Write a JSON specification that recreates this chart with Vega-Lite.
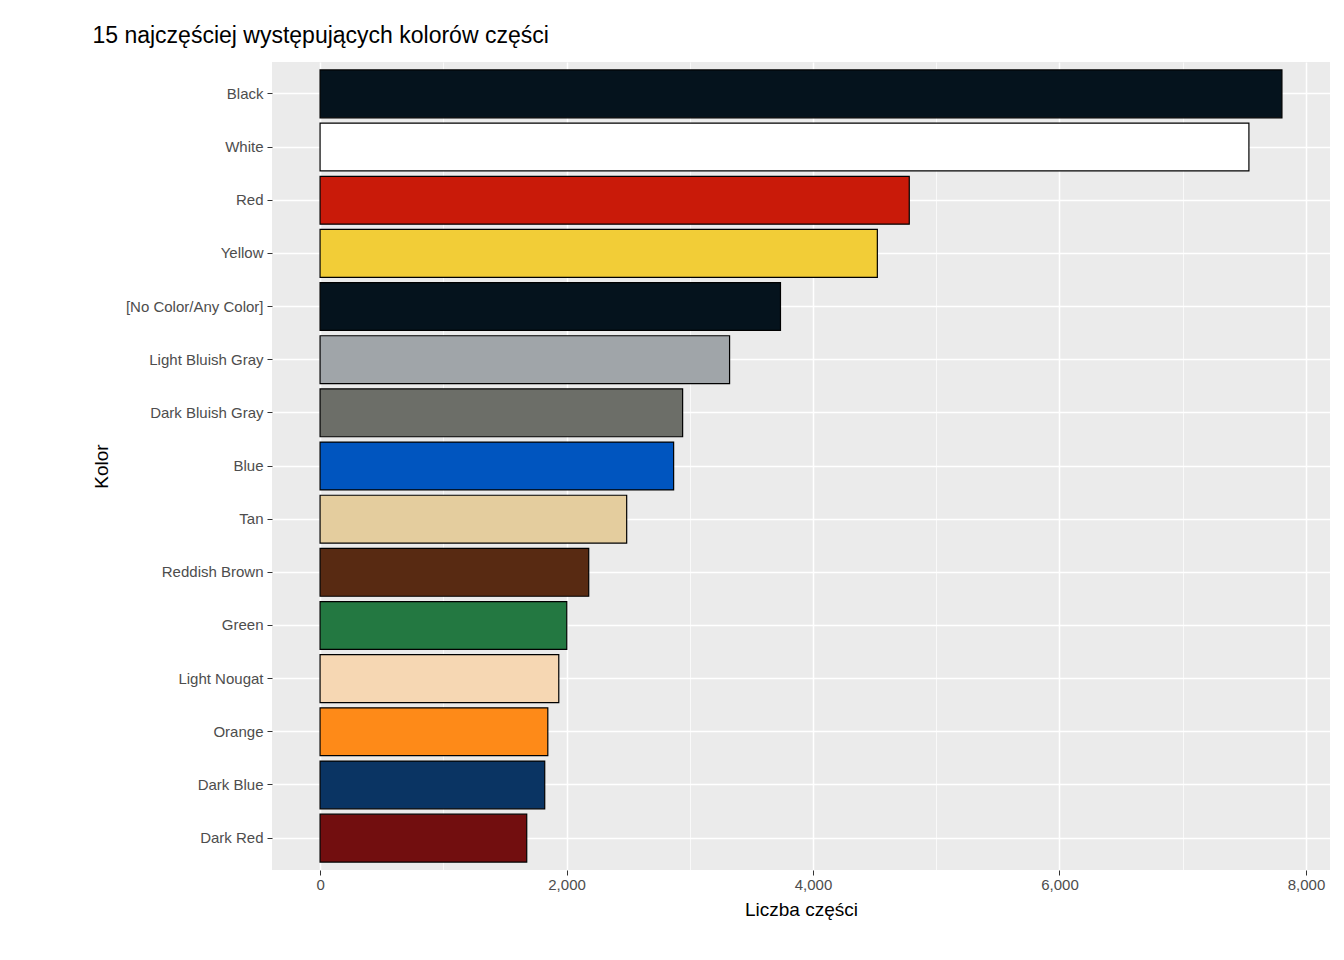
{
  "$schema": "https://vega.github.io/schema/vega-lite/v6.json",
  "autosize": "none",
  "width": 1058,
  "height": 808,
  "padding": {"left": 272, "top": 62, "right": 14, "bottom": 90},
  "background": "white",
  "title": {"text": "15 najczęściej występujących kolorów części", "anchor": "start", "frame": "bounds", "font": "Liberation Sans", "fontSize": 23, "fontWeight": "normal", "color": "black", "offset": 14},
  "config": {"view": {"fill": "#EBEBEB", "stroke": null}},
  "data": {"values": [
    {"kolor": "Black", "n": 7805},
    {"kolor": "White", "n": 7537},
    {"kolor": "Red", "n": 4781},
    {"kolor": "Yellow", "n": 4522},
    {"kolor": "[No Color/Any Color]", "n": 3736},
    {"kolor": "Light Bluish Gray", "n": 3323},
    {"kolor": "Dark Bluish Gray", "n": 2942},
    {"kolor": "Blue", "n": 2869},
    {"kolor": "Tan", "n": 2488},
    {"kolor": "Reddish Brown", "n": 2180},
    {"kolor": "Green", "n": 2002},
    {"kolor": "Light Nougat", "n": 1937},
    {"kolor": "Orange", "n": 1848},
    {"kolor": "Dark Blue", "n": 1823},
    {"kolor": "Dark Red", "n": 1677}
  ]},
  "mark": {"type": "bar", "stroke": "black", "strokeWidth": 1.2},
  "encoding": {
    "y": {"field": "kolor", "type": "nominal", "sort": {"field": "n", "order": "descending"}, "title": "Kolor",
      "scale": {"paddingInner": 0.1, "paddingOuter": 0.15},
      "axis": {"grid": true, "bandPosition": 0.5, "gridColor": "white", "gridWidth": 1.5, "domain": false,
        "tickColor": "#333333", "tickSize": 5, "labelFont": "Liberation Sans", "labelFontSize": 15, "labelColor": "#4D4D4D", "labelPadding": 4,
        "titleFont": "Liberation Sans", "titleFontSize": 19, "titleFontWeight": "normal", "titleColor": "black", "titlePadding": 14}},
    "x": {"field": "n", "type": "quantitative", "title": "Liczba części",
      "scale": {"domain": [-390, 8195], "nice": false, "zero": false},
      "axis": {"values": [0, 1000, 2000, 3000, 4000, 5000, 6000, 7000, 8000], "format": ",d",
        "labelExpr": "datum.value % 2000 === 0 ? datum.label : ''",
        "grid": true, "gridColor": "white",
        "gridWidth": {"condition": {"test": "datum.value % 2000 === 0", "value": 1.5}, "value": 0.7},
        "tickOpacity": {"condition": {"test": "datum.value % 2000 === 0", "value": 1}, "value": 0},
        "domain": false, "tickColor": "#333333", "tickSize": 5,
        "labelFont": "Liberation Sans", "labelFontSize": 15, "labelColor": "#4D4D4D",
        "titleFont": "Liberation Sans", "titleFontSize": 19, "titleFontWeight": "normal", "titleColor": "black", "titlePadding": 8}},
    "fill": {"field": "kolor", "type": "nominal", "legend": null,
      "scale": {"domain": ["Black", "White", "Red", "Yellow", "[No Color/Any Color]", "Light Bluish Gray", "Dark Bluish Gray", "Blue", "Tan", "Reddish Brown", "Green", "Light Nougat", "Orange", "Dark Blue", "Dark Red"],
        "range": ["#05131D", "#FFFFFF", "#C91A09", "#F2CD37", "#05131D", "#A0A5A9", "#6C6E68", "#0055BF", "#E4CD9E", "#582A12", "#237841", "#F6D7B3", "#FE8A18", "#0A3463", "#720E0F"]}}
  }
}
